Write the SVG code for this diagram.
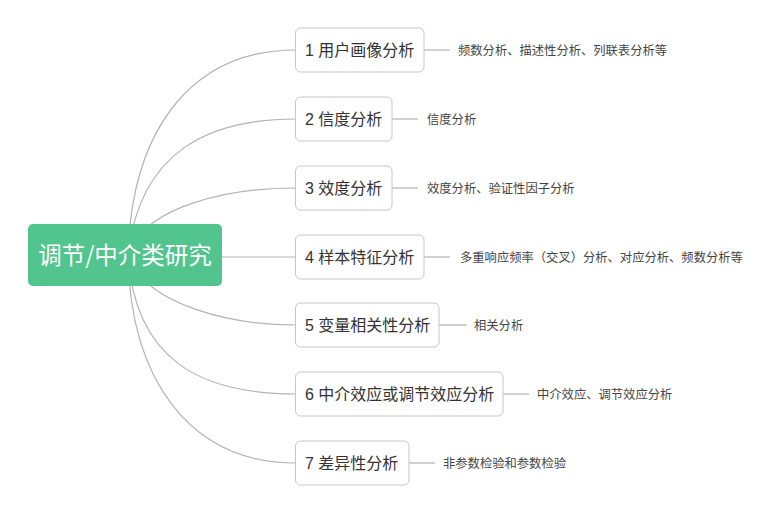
<svg xmlns="http://www.w3.org/2000/svg" width="781" height="516" viewBox="0 0 781 516">
<style>
.conn{fill:none;stroke:#b3b3b3;stroke-width:1.2}
.box{fill:#fff;stroke:#c6c6c6;stroke-width:1}
.t{font-family:"Liberation Sans","Noto Sans CJK SC",sans-serif;font-size:16px;fill:#333}
.leaf{font-family:"Noto Sans CJK SC","Liberation Sans",sans-serif;font-size:12.3px;fill:#444}
.root{font-family:"Noto Sans CJK SC","Liberation Sans",sans-serif;font-size:23.5px;fill:#fff;text-anchor:middle}
</style>
<rect width="781" height="516" fill="#fff"/>
<g id="connectors">
<path class="conn" d="M128,255 C132,125 195,50 296,50"/>
<path class="conn" d="M128,255 C140,150 210,119 296,119"/>
<path class="conn" d="M130,250 C150,205 230,188 296,188"/>
<path class="conn" d="M222,257 H296"/>
<path class="conn" d="M130,260 C150,305 230,325 296,325"/>
<path class="conn" d="M128,255 C135,360 200,394 296,394"/>
<path class="conn" d="M128,255 C130,380 190,463 296,463"/>
<path class="conn" d="M424,50 H450"/>
<path class="conn" d="M392,119 H418"/>
<path class="conn" d="M392,188 H418"/>
<path class="conn" d="M424,257 H450"/>
<path class="conn" d="M439,325 H467"/>
<path class="conn" d="M503,394 H529"/>
<path class="conn" d="M409,463 H435"/>
</g>
<g id="root">
<rect x="28" y="224" width="194" height="62" rx="5" fill="#52c48d"/>
<text class="root" x="125" y="264">调节/中介类研究</text>
</g>
<g id="n1">
<rect class="box" x="295.5" y="28" width="128.5" height="44" rx="5"/>
<text class="t" x="305" y="56">1 用户画像分析</text>
<text class="leaf" x="458" y="54.5">频数分析、描述性分析、列联表分析等</text>
</g>
<g id="n2">
<rect class="box" x="295.5" y="97" width="96.5" height="44" rx="5"/>
<text class="t" x="305" y="125">2 信度分析</text>
<text class="leaf" x="427" y="123.5">信度分析</text>
</g>
<g id="n3">
<rect class="box" x="295.5" y="166" width="96.5" height="44" rx="5"/>
<text class="t" x="305" y="194">3 效度分析</text>
<text class="leaf" x="427" y="192.5">效度分析、验证性因子分析</text>
</g>
<g id="n4">
<rect class="box" x="295.5" y="235" width="128.5" height="44" rx="5"/>
<text class="t" x="305" y="263">4 样本特征分析</text>
<text class="leaf" x="460" y="261.5">多重响应频率（交叉）分析、对应分析、频数分析等</text>
</g>
<g id="n5">
<rect class="box" x="295.5" y="303" width="143.5" height="44" rx="5"/>
<text class="t" x="305" y="331">5 变量相关性分析</text>
<text class="leaf" x="474" y="329.5">相关分析</text>
</g>
<g id="n6">
<rect class="box" x="295.5" y="372" width="207.5" height="44" rx="5"/>
<text class="t" x="305" y="400">6 中介效应或调节效应分析</text>
<text class="leaf" x="537" y="398.5">中介效应、调节效应分析</text>
</g>
<g id="n7">
<rect class="box" x="295.5" y="441" width="113.5" height="44" rx="5"/>
<text class="t" x="305" y="469">7 差异性分析</text>
<text class="leaf" x="443" y="467.5">非参数检验和参数检验</text>
</g>
</svg>
